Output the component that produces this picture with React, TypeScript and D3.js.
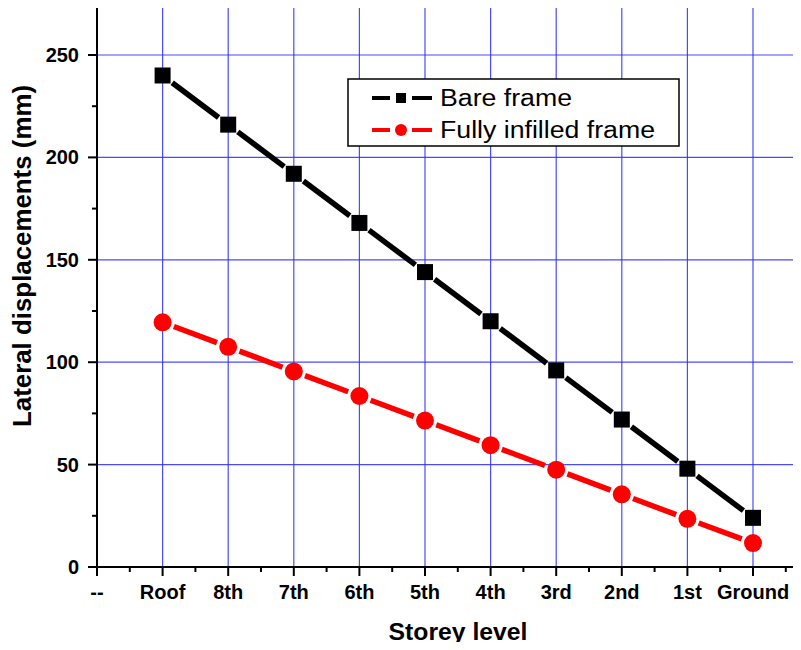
import React, { useEffect, useRef } from 'react';
import * as d3 from 'd3';

// storey labels along the x axis ("--" is the empty first slot)
const storeys = ['--', 'Roof', '8th', '7th', '6th', '5th', '4th', '3rd', '2nd', '1st', 'Ground'];
// displacements in mm, Roof -> Ground
const bareFrame = [240, 216, 192, 168, 144, 120, 96, 72, 48, 24];
const infilledFrame = [119.5, 107.5, 95.5, 83.5, 71.5, 59.5, 47.5, 35.5, 23.5, 11.7];
const yTicks = [0, 50, 100, 150, 200, 250];

const W = 801;
const H = 650;

const App = () => {
  const svgRef = useRef<SVGSVGElement | null>(null);

  useEffect(() => {
    if (!svgRef.current) return;
    const svg = d3.select(svgRef.current);
    svg.selectAll('*').remove();

    const left = 97, top = 7, bottom = 567;
    const x = d3.scaleLinear().domain([0, 10]).range([left, 753]);
    const y = d3.scaleLinear().domain([0, 250]).range([bottom, 55]);
    const right = W;
    const font = 'Arial, "Liberation Sans", sans-serif';

    // grid
    const grid = svg.append('g').attr('stroke', '#2a2aff').attr('stroke-width', 1.2).attr('stroke-opacity', 0.85);
    d3.range(1, 11).forEach(i => {
      grid.append('line').attr('x1', x(i)).attr('x2', x(i)).attr('y1', top).attr('y2', bottom);
    });
    yTicks.filter(v => v > 0).forEach(v => {
      grid.append('line').attr('x1', left).attr('x2', right).attr('y1', y(v)).attr('y2', y(v));
    });

    // axes
    const ax = svg.append('g').attr('stroke', '#000').attr('stroke-width', 2);
    ax.append('line').attr('x1', left).attr('x2', left).attr('y1', top).attr('y2', bottom + 1);
    ax.append('line').attr('x1', left - 1).attr('x2', right).attr('y1', bottom).attr('y2', bottom);

    // x ticks
    d3.range(0, 11).forEach(i => {
      ax.append('line').attr('x1', x(i)).attr('x2', x(i)).attr('y1', bottom).attr('y2', bottom + 9);
    });
    d3.range(0.5, 11, 1).forEach(i => {
      ax.append('line').attr('x1', x(i)).attr('x2', x(i)).attr('y1', bottom).attr('y2', bottom + 5);
    });
    // y ticks
    yTicks.forEach(v => {
      ax.append('line').attr('x1', left - 9).attr('x2', left).attr('y1', y(v)).attr('y2', y(v));
    });
    d3.range(25, 275, 50).forEach(v => {
      ax.append('line').attr('x1', left - 5).attr('x2', left).attr('y1', y(v)).attr('y2', y(v));
    });

    // tick labels
    svg.append('g').selectAll('text').data(storeys).join('text')
      .attr('x', (_, i) => x(i)).attr('y', bottom + 32)
      .attr('text-anchor', 'middle')
      .attr('font-family', font).attr('font-weight', 'bold').attr('font-size', 20)
      .text(d => d);
    svg.append('g').selectAll('text').data(yTicks).join('text')
      .attr('x', 79).attr('y', d => y(d) + 7)
      .attr('text-anchor', 'end')
      .attr('font-family', font).attr('font-weight', 'bold').attr('font-size', 20)
      .text(d => d);

    // axis titles
    svg.append('text').attr('x', 458).attr('y', 640).attr('text-anchor', 'middle')
      .attr('font-family', font).attr('font-weight', 'bold').attr('font-size', 23)
      .attr('textLength', 139).attr('lengthAdjust', 'spacingAndGlyphs')
      .text('Storey level');
    svg.append('text').attr('transform', 'translate(31,256) rotate(-90)').attr('text-anchor', 'middle')
      .attr('font-family', font).attr('font-weight', 'bold').attr('font-size', 25)
      .attr('textLength', 342).attr('lengthAdjust', 'spacingAndGlyphs')
      .text('Lateral displacements (mm)');

    // series lines with gaps around the markers
    const drawSeries = (vals: number[], color: string, gap: number) => {
      const pts = vals.map((v, i) => [x(i + 1), y(v)]);
      const g = svg.append('g');
      for (let i = 0; i < pts.length - 1; i++) {
        const [x1, y1] = pts[i];
        const [x2, y2] = pts[i + 1];
        const len = Math.hypot(x2 - x1, y2 - y1);
        const ux = (x2 - x1) / len, uy = (y2 - y1) / len;
        g.append('line')
          .attr('x1', x1 + ux * gap).attr('y1', y1 + uy * gap)
          .attr('x2', x2 - ux * gap).attr('y2', y2 - uy * gap)
          .attr('stroke', color).attr('stroke-width', 5.5);
      }
      return pts;
    };

    const bPts = drawSeries(bareFrame, '#000', 12);
    svg.append('g').selectAll('rect').data(bPts).join('rect')
      .attr('x', d => d[0] - 8).attr('y', d => d[1] - 8)
      .attr('width', 16).attr('height', 16).attr('fill', '#000');

    const iPts = drawSeries(infilledFrame, '#ff0000', 12);
    svg.append('g').selectAll('circle').data(iPts).join('circle')
      .attr('cx', d => d[0]).attr('cy', d => d[1]).attr('r', 9).attr('fill', '#ff0000');

    // legend
    const lg = svg.append('g');
    lg.append('rect').attr('x', 348).attr('y', 79).attr('width', 331).attr('height', 67)
      .attr('fill', '#fff').attr('stroke', '#000').attr('stroke-width', 1.5);
    const entries = [
      { label: 'Bare frame', color: '#000', shape: 'square', len: 132 },
      { label: 'Fully infilled frame', color: '#ff0000', shape: 'circle', len: 215 },
    ];
    entries.forEach((e, i) => {
      const cy = 98 + i * 32;
      lg.append('line').attr('x1', 372).attr('x2', 390).attr('y1', cy).attr('y2', cy)
        .attr('stroke', e.color).attr('stroke-width', 4);
      lg.append('line').attr('x1', 412).attr('x2', 432).attr('y1', cy).attr('y2', cy)
        .attr('stroke', e.color).attr('stroke-width', 4);
      if (e.shape === 'square') {
        lg.append('rect').attr('x', 396).attr('y', cy - 5).attr('width', 10).attr('height', 10).attr('fill', e.color);
      } else {
        lg.append('circle').attr('cx', 401).attr('cy', cy).attr('r', 6).attr('fill', e.color);
      }
      lg.append('text').attr('x', 440).attr('y', cy + 8)
        .attr('font-family', font).attr('font-size', 23).attr('fill', '#000')
        .attr('textLength', e.len).attr('lengthAdjust', 'spacingAndGlyphs')
        .text(e.label);
    });
  }, []);

  return (
    <div style={{ margin: -8 }}>
      <svg ref={svgRef} width={W} height={H} style={{ display: 'block', background: '#fff' }} />
    </div>
  );
};

export default App;
